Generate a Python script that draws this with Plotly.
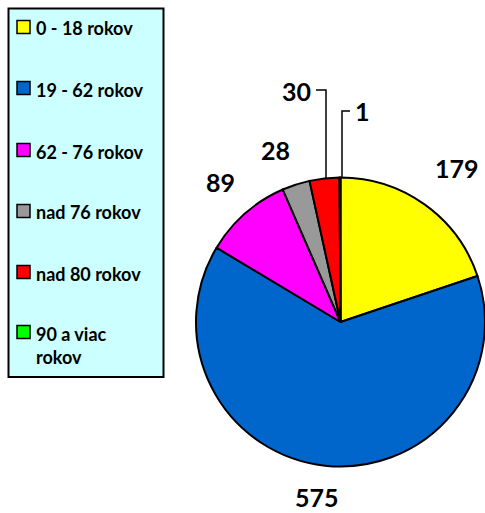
import plotly.graph_objects as go

W, H = 485, 513

labels = ["0 - 18 rokov", "19 - 62 rokov", "62 - 76 rokov", "nad 76 rokov", "nad 80 rokov", "90 a viac<br>rokov"]
values = [179, 575, 89, 28, 30, 1]
colors = ["#FFFF00", "#0066CC", "#FF00FF", "#999999", "#FF0000", "#00FF00"]

# label anchor positions in pixels (x from left, y from top)
label_pos = [(457, 168), (317, 497), (220, 182), (275, 150), (296, 91), (362, 111)]
legend_rows = [27, 88, 150, 211, 272, 332]

FONT = "Lato"


def px(x):
    return x / W


def py(y):
    return 1 - y / H


fig = go.Figure()

cx, cy, r = 340.5, 322, 144.5
fig.add_trace(go.Pie(
    labels=labels,
    values=values,
    marker=dict(colors=colors, line=dict(color="black", width=2)),
    sort=False,
    direction="clockwise",
    rotation=0,
    textinfo="none",
    hoverinfo="label+value",
    showlegend=False,
    domain=dict(x=[px(cx - r), px(cx + r)], y=[py(cy + r), py(cy - r)]),
))

annotations = []
shapes = []

# data labels
for v, (x, y) in zip(values, label_pos):
    annotations.append(dict(
        x=px(x), y=py(y), xref="paper", yref="paper",
        text=f"<b>{v}</b>", showarrow=False,
        xanchor="center", yanchor="middle", borderpad=0,
        font=dict(family=FONT, size=25, color="black"),
    ))

# leader lines
shapes.append(dict(type="path", xref="paper", yref="paper",
                   path=f"M {px(316)} {py(90)} L {px(326)} {py(90)} L {px(326)} {py(178)}",
                   line=dict(color="black", width=1.5)))
shapes.append(dict(type="path", xref="paper", yref="paper",
                   path=f"M {px(350)} {py(111)} L {px(342)} {py(111)} L {px(342)} {py(178)}",
                   line=dict(color="black", width=1.5)))

# legend box
shapes.append(dict(type="rect", xref="paper", yref="paper",
                   x0=px(8.5), x1=px(163.5), y0=py(377), y1=py(8.5),
                   fillcolor="#CCFFFF", line=dict(color="black", width=2), layer="below"))

for lab, col, yy in zip(labels, colors, legend_rows):
    shapes.append(dict(type="rect", xref="paper", yref="paper",
                       x0=px(17), x1=px(30), y0=py(yy + 6.5), y1=py(yy - 6.5),
                       fillcolor=col, line=dict(color="black", width=1.5)))
    annotations.append(dict(
        x=px(34), y=py(yy - 11.5), xref="paper", yref="paper",
        text=f"<b>{lab}</b>", showarrow=False, align="left",
        xanchor="left", yanchor="top",
        font=dict(family=FONT, size=18, color="black"),
    ))

fig.update_layout(
    width=W, height=H,
    margin=dict(l=0, r=0, t=0, b=0),
    paper_bgcolor="white",
    plot_bgcolor="white",
    shapes=shapes,
    annotations=annotations,
    showlegend=False,
)

fig.write_html("out.html", config={"displayModeBar": False},
               post_script="document.body.style.margin='0px';document.body.style.overflow='hidden';")
